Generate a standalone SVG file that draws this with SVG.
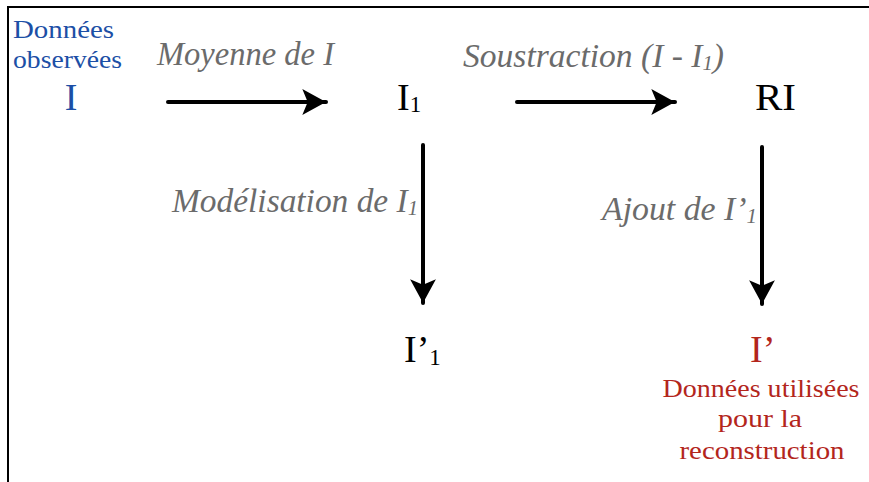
<svg xmlns="http://www.w3.org/2000/svg" width="869" height="482" viewBox="0 0 869 482">
<style>
text{font-family:'Liberation Serif',serif}
.node{font-size:38px;fill:#000}
.lbl{font-style:italic;font-size:34px;fill:#6b6b6b}
.blue{fill:#1c4fa6}
.red{fill:#b3261c}
.small{font-size:26px}
.sub{font-size:23px}
.lsub{font-size:21px}
.edge{stroke:#000;stroke-width:4;fill:none;stroke-linecap:round}
</style>
<defs>
<marker id="ah" markerUnits="userSpaceOnUse" markerWidth="26" markerHeight="28" viewBox="0 -13 24 26" refX="22" refY="0" orient="auto">
<path d="M0,-12 L22,0 L0,12 L5,0 Z" fill="#000"/>
</marker>
</defs>
<rect width="869" height="482" fill="#fff"/>
<polyline points="8,482 8,7 869,7" fill="none" stroke="#000" stroke-width="2"/>
<g id="connectors">
<line class="edge" x1="168" y1="102" x2="326" y2="102" marker-end="url(#ah)"/>
<line class="edge" x1="517" y1="102" x2="675" y2="102" marker-end="url(#ah)"/>
<line class="edge" x1="423" y1="145" x2="423" y2="303" marker-end="url(#ah)"/>
<line class="edge" x1="762" y1="147" x2="762" y2="304" marker-end="url(#ah)"/>
<text class="lbl" x="157" y="65" textLength="177" lengthAdjust="spacingAndGlyphs">Moyenne de I</text>
<text class="lbl" x="463" y="67" textLength="261" lengthAdjust="spacingAndGlyphs">Soustraction (I - I<tspan class="lsub" dy="3">1</tspan><tspan dy="-3">)</tspan></text>
<text class="lbl" x="172" y="212" textLength="246" lengthAdjust="spacingAndGlyphs">Modélisation de I<tspan class="lsub" dy="3">1</tspan></text>
<text class="lbl" x="602" y="220" textLength="155" lengthAdjust="spacingAndGlyphs">Ajout de I’<tspan class="lsub" dy="3">1</tspan></text>
</g>
<g id="node-I">
<text class="node blue small" x="13" y="38" textLength="101" lengthAdjust="spacingAndGlyphs">Données</text>
<text class="node blue small" x="13" y="68" textLength="109" lengthAdjust="spacingAndGlyphs">observées</text>
<text class="node blue" x="71" y="110" text-anchor="middle">I</text>
</g>
<g id="node-I1">
<text class="node" x="397" y="110">I<tspan class="sub" dy="2">1</tspan></text>
</g>
<g id="node-RI">
<text class="node" x="755" y="110" textLength="41" lengthAdjust="spacingAndGlyphs">RI</text>
</g>
<g id="node-Iprime1">
<text class="node" x="404" y="362">I’<tspan class="sub" dy="3">1</tspan></text>
</g>
<g id="node-Iprime">
<text class="node red" x="750" y="362">I’</text>
<text class="node red small" x="761" y="397" text-anchor="middle" textLength="197" lengthAdjust="spacingAndGlyphs">Données utilisées</text>
<text class="node red small" x="760" y="427" text-anchor="middle" textLength="84" lengthAdjust="spacingAndGlyphs">pour la</text>
<text class="node red small" x="762" y="459" text-anchor="middle" textLength="165" lengthAdjust="spacingAndGlyphs">reconstruction</text>
</g>
</svg>
